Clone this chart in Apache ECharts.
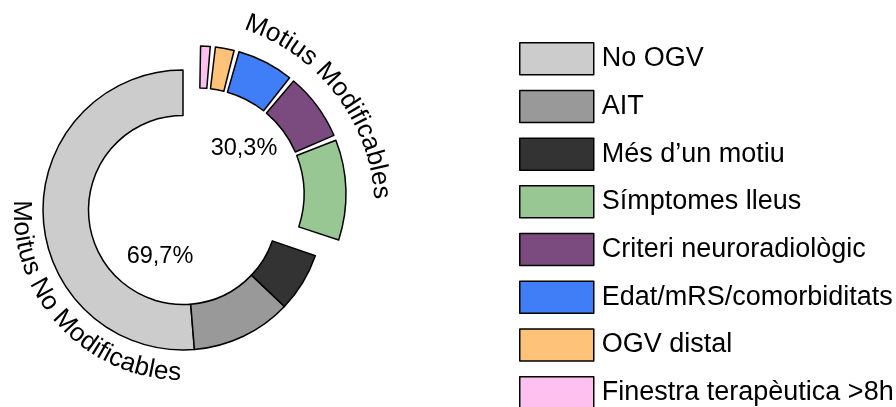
<!DOCTYPE html>
<html>
<head>
<meta charset="utf-8">
<script src="https://cdn.jsdelivr.net/npm/echarts@6/dist/echarts.min.js"></script>
<style>
  html, body { margin: 0; padding: 0; background: #fff; }
  #main { width: 896px; height: 407px; }
</style>
</head>
<body>
<div id="main"></div>
<script>
// motius no modificables (% del total)
const fixedNames = ['No OGV', 'AIT', 'Més d\u2019un motiu'];
const fixedValues = [51.3, 11.6, 6.8];
const fixedColors = ['#cccccc', '#999999', '#333333'];

// motius modificables (% del total)
const modNames = ['Símptomes lleus', 'Criteri neuroradiològic', 'Edat/mRS/comorbiditats', 'OGV distal', 'Finestra terapèutica >8h'];
const modValues = [11.5, 7.9, 6.7, 2.6, 1.6];
const modColors = ['#98c794', '#7b4b7f', '#3f7ef6', '#fec278', '#fec0ef'];

const groupLabels = ['Moitus No Modificables', 'Motius Modificables'];

const FONT = '"Liberation Sans", Arial, sans-serif';
const sum = arr => arr.reduce((a, b) => a + b, 0);
const pct = v => v.toFixed(1).replace('.', ',') + '%';

const fixedTotal = sum(fixedValues);
const modTotal = sum(modValues);

// empty slice that keeps the other group's room in each ring
function gap(value) {
  return {
    name: '',
    value: value,
    itemStyle: { color: 'rgba(0,0,0,0)', borderWidth: 0 },
    emphasis: { disabled: true },
    tooltip: { show: false }
  };
}

const fixedData = fixedNames.map((n, i) => ({ name: n, value: fixedValues[i], itemStyle: { color: fixedColors[i] } }));
fixedData.push(gap(modTotal));

const modData = [gap(fixedTotal)].concat(
  modNames.map((n, i) => ({ name: n, value: modValues[i], itemStyle: { color: modColors[i] } }))
);

// curved text, one char at a time along an arc
const ctx = document.createElement('canvas').getContext('2d');
function arcText(str, cx, cy, r, a0, a1, inward, size) {
  ctx.font = size + 'px ' + FONT;
  const chars = str.split('');
  let acc = 0;
  const mids = chars.map(c => {
    const w = ctx.measureText(c).width;
    const m = acc + w / 2;
    acc += w;
    return m;
  });
  const s0 = mids[0], s1 = mids[mids.length - 1];
  return chars.map((c, i) => {
    const a = (a0 + (a1 - a0) * (mids[i] - s0) / (s1 - s0)) * Math.PI / 180;
    return {
      type: 'text',
      x: cx + r * Math.cos(a),
      y: cy - r * Math.sin(a),
      rotation: inward ? a + Math.PI / 2 : a - Math.PI / 2,
      silent: true,
      style: {
        text: c, fontSize: size, fontFamily: FONT, fill: '#000',
        align: 'center', verticalAlign: 'middle',
        textAlign: 'center', textVerticalAlign: 'middle'
      }
    };
  });
}

function pctText(v, x, y) {
  return {
    type: 'text', x: x, y: y, silent: true,
    style: {
      text: pct(v), fontSize: 23.5, fontFamily: FONT, fill: '#000',
      align: 'center', verticalAlign: 'middle',
      textAlign: 'center', textVerticalAlign: 'middle'
    }
  };
}

const chart = echarts.init(document.getElementById('main'));
chart.setOption({
  animation: false,
  backgroundColor: '#fff',
  legend: {
    orient: 'vertical',
    left: 519,
    top: 42,
    height: 400,
    padding: 0,
    itemWidth: 74,
    itemHeight: 32,
    itemGap: 14.2,
    icon: 'rect',
    data: fixedNames.concat(modNames),
    itemStyle: { borderColor: '#000', borderWidth: 1.5 },
    textStyle: { fontSize: 27, lineHeight: 32, fontFamily: FONT, color: '#000', padding: [0, 0, 0, 3] }
  },
  series: [
    {
      type: 'pie',
      center: [183, 210],
      radius: [94.5, 140],
      startAngle: 90,
      clockwise: false,
      label: { show: false },
      labelLine: { show: false },
      itemStyle: { borderColor: '#000', borderWidth: 1.5 },
      data: fixedData
    },
    {
      type: 'pie',
      center: [198, 194],
      radius: [106, 148],
      startAngle: 90,
      clockwise: false,
      padAngle: 2,
      label: { show: false },
      labelLine: { show: false },
      itemStyle: { borderColor: '#000', borderWidth: 1.5 },
      data: modData
    }
  ],
  graphic: {
    elements: [
      pctText(fixedTotal, 160, 257),
      pctText(modTotal, 244, 149)
    ]
      .concat(arcText(groupLabels[1], 183, 211, 199, 68.4, 5.4, false, 26))
      .concat(arcText(groupLabels[0], 183, 211, 162, 180, 267, true, 26))
  }
});
</script>
</body>
</html>
